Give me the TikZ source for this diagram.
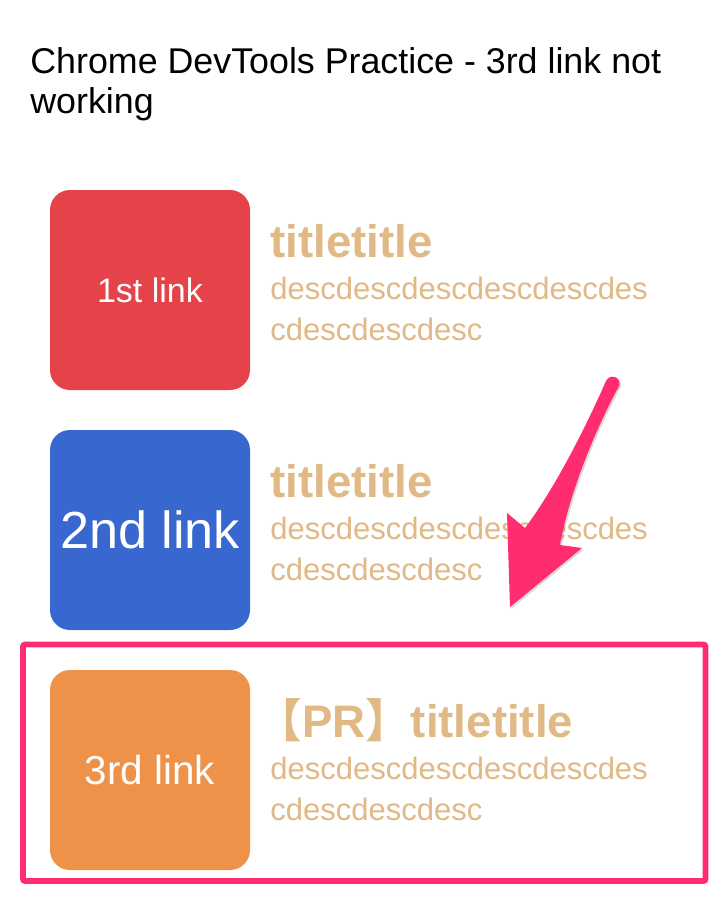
\documentclass[tikz,border=0pt]{standalone}
\usepackage{fontspec}
\setmainfont{Liberation Sans}
\newfontfamily\cjkfont{Noto Sans CJK JP}
\usepackage{tikz}
\usetikzlibrary{positioning,shadows}
\usepackage{xcolor}
\definecolor{linkred}{RGB}{229,66,73}
\definecolor{linkblue}{RGB}{55,103,207}
\definecolor{linkorange}{RGB}{238,146,74}
\definecolor{desctan}{RGB}{224,185,133}
\definecolor{alertpink}{RGB}{255,45,111}
\tikzstyle{linkbox} = [rectangle, rounded corners=10pt, minimum width=100pt, minimum height=100pt, text=white, inner sep=0pt]
\tikzstyle{headline} = [anchor=base west, inner sep=0pt, text=desctan, font=\bfseries\fontsize{22.8}{27}\selectfont]
\tikzstyle{desctext} = [anchor=base west, inner sep=0pt, text=desctan, align=left, font=\fontsize{15.5}{20.5}\selectfont]
\tikzstyle{frame} = [draw=alertpink, line width=2.85pt, rounded corners=1pt]
\tikzstyle{pointer} = [fill=alertpink, drop shadow={shadow xshift=0.8pt, shadow yshift=-0.8pt, opacity=0.3}]

\begin{document}
\begin{tikzpicture}[x=0.5pt, y=-0.5pt]
\useasboundingbox[fill=white] (0,0) rectangle (726,900);

% Page heading (base = last line)
\node (heading) [anchor=base west, inner sep=0pt, align=left, font=\fontsize{17.9}{20}\selectfont] at (30,113) {Chrome DevTools Practice - 3rd link not\\working};

% First item
\node (link1) [linkbox, fill=linkred, font=\fontsize{17}{20}\selectfont] at (150,290) {1st link};
\node (title1) [headline] at (270,257) {titletitle};
\node (desc1) [desctext] at (270,340) {descdescdescdescdescdes\\cdescdescdesc};

% Second item
\node (link2) [linkbox, fill=linkblue, font=\fontsize{26.1}{30}\selectfont] at (150,530) {2nd link};
\node (title2) [headline] at (270,497) {titletitle};
\node (desc2) [desctext] at (270,580) {descdescdescdescdescdes\\cdescdescdesc};

% Third item (not working)
\node (link3) [linkbox, fill=linkorange, font=\fontsize{20.2}{24}\selectfont] at (150,770) {3rd link};
\node (title3) [headline] at (256,737) {{\cjkfont 【}PR{\cjkfont 】}titletitle};
\node (desc3) [desctext] at (270,820) {descdescdescdescdescdes\\cdescdescdesc};

% Highlight round the third item
\draw[frame] (23,644.5) rectangle (705.5,881);

% Pointing arrow
\path[pointer] (606,381) .. controls (580,440) and (550,495) .. (525,528) -- (507,513) -- (510,607) -- (582,548) -- (560,545) .. controls (568,500) and (590,440) .. (619,386) .. controls (622,377) and (610,373) .. (606,381) -- cycle;
\end{tikzpicture}
\end{document}
